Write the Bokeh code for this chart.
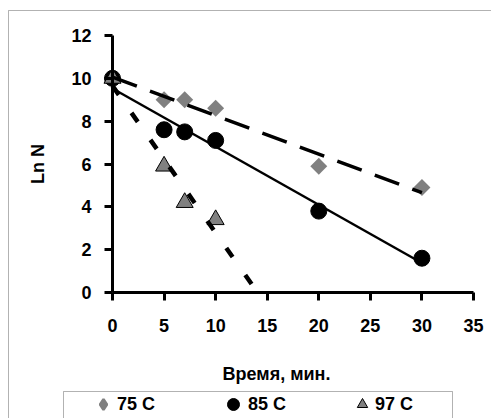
import numpy as np
from bokeh.plotting import figure
from bokeh.models import (Range1d, LinearAxis, FixedTicker, Legend, LegendItem,
                          BoxAnnotation, Label)
from bokeh.embed import file_html
from bokeh.resources import INLINE

# ---- data ----
time_75 = [0, 5, 7, 10, 20, 30]
ln_75 = [10.0, 9.0, 9.0, 8.6, 5.9, 4.9]
time_85 = [0, 5, 7, 10, 20, 30]
ln_85 = [10.0, 7.6, 7.5, 7.1, 3.8, 1.6]
time_97 = [0, 5, 7, 10]
ln_97 = [10.0, 5.9, 4.2, 3.4]
x_ticks = [0, 5, 10, 15, 20, 25, 30, 35]
y_ticks = [0, 2, 4, 6, 8, 10, 12]
series_labels = ["75 C", "85 C", "97 C"]
x_title = "Время, мин."
y_title = "Ln N"

FONT = "Liberation Sans"
GREY = "#808080"

# ---- layout: the frame covers the whole canvas, axes sit at x=0 / y=0 ----
W, H = 491, 418
ox, oy = 112, 292            # pixel position of the data origin
pxx = (473 - 112) / 35.0     # pixels per minute
pxy = (292 - 35) / 12.0      # pixels per Ln unit

p = figure(output_backend="svg", toolbar_location=None,
           x_range=Range1d(-ox / pxx, (W - ox) / pxx),
           y_range=Range1d(-(H - oy) / pxy, oy / pxy),
           x_axis_location=None, y_axis_location=None,
           frame_width=W, frame_height=H,
           min_border_left=0, min_border_right=0,
           min_border_top=0, min_border_bottom=0)
p.grid.grid_line_color = None
p.outline_line_color = None
p.background_fill_color = "white"
p.border_fill_color = "white"


def style_axis(ax):
    ax.axis_line_width = 3
    ax.axis_line_color = "black"
    ax.major_tick_line_width = 3
    ax.major_tick_line_color = "black"
    ax.major_tick_in = 0
    ax.major_tick_out = 8
    ax.minor_tick_in = 0
    ax.minor_tick_out = 0
    ax.major_label_text_font = FONT
    ax.major_label_text_font_size = "18px"
    ax.major_label_text_font_style = "bold"
    ax.major_label_text_color = "black"
    ax.axis_label_text_font = FONT
    ax.axis_label_text_font_size = "18px"
    ax.axis_label_text_font_style = "bold"
    ax.axis_label_text_color = "black"


xaxis = LinearAxis(ticker=FixedTicker(ticks=x_ticks), bounds=(0, 35),
                   fixed_location=0)
style_axis(xaxis)
xaxis.major_label_standoff = 18
p.add_layout(xaxis, "below")

yaxis = LinearAxis(ticker=FixedTicker(ticks=y_ticks), bounds=(0, 12),
                   axis_label=y_title, fixed_location=0)
style_axis(yaxis)
yaxis.major_label_standoff = 13
yaxis.axis_label_standoff = 20
p.add_layout(yaxis, "left")

# x-axis title (offset to the left like the reference)
p.add_layout(Label(x=276, y=H - 373, x_units="screen", y_units="screen",
                   text=x_title, text_align="center", text_baseline="middle",
                   text_font=FONT, text_font_size="18px",
                   text_font_style="bold", text_color="black"))

# ---- markers ----
# diamond-shaped key for the legend (legend glyphs ignore marker angle);
# drawn small under the rotated squares so it stays hidden in the plot
r75_key = p.scatter(time_75, ln_75, marker="diamond", size=8,
                    fill_color=GREY, line_color=GREY, line_width=2.5)
r75 = p.scatter(time_75, ln_75, marker="square", angle=np.pi / 4, size=12,
                fill_color=GREY, line_color=None)
r85 = p.scatter(time_85, ln_85, marker="circle", size=16,
                fill_color="black", line_color="black")
r97 = p.scatter(time_97, ln_97, marker="triangle", size=17,
                fill_color=GREY, line_color="black", line_width=1)

# ---- linear trend lines (least squares on the data) ----
m75, b75 = np.polyfit(time_75, ln_75, 1)
x75 = [min(time_75), max(time_75)]
p.line(x75, [b75 + m75 * x for x in x75], line_color="black", line_width=3.5,
       line_dash="26 14")

m85, b85 = np.polyfit(time_85, ln_85, 1)
x85 = [min(time_85), max(time_85)]
p.line(x85, [b85 + m85 * x for x in x85], line_color="black", line_width=2.5)

m97, b97 = np.polyfit(time_97, ln_97, 1)
x97 = [min(time_97), -b97 / m97]
p.line(x97, [b97 + m97 * x for x in x97], line_color="black", line_width=4.5,
       line_dash="11 22")

# ---- legend (one small legend per series for marker sizing) ----
cy = H - 404  # legend row centre, measured from the bottom
legend_specs = [
    (series_labels[0], r75_key, 26, 1, 90),
    (series_labels[1], r85, 30, -1, 218),
    (series_labels[2], r97, 26, -3, 349),
]
for label, rend, g, standoff, gx in legend_specs:
    lg = Legend(items=[LegendItem(label=label, renderers=[rend])],
                location=(gx, cy - g / 2), orientation="horizontal",
                glyph_width=g, glyph_height=g, label_standoff=standoff,
                padding=0, margin=0, border_line_color=None,
                background_fill_alpha=0,
                label_text_font=FONT, label_text_font_size="18px",
                label_text_font_style="bold", label_text_color="black")
    p.add_layout(lg, "center")

# ---- chart border and legend box ----
outer = BoxAnnotation(left=8, right=520, top=10, bottom=440,
                      left_units="canvas", right_units="canvas",
                      top_units="canvas", bottom_units="canvas",
                      fill_alpha=0, line_color="black", line_width=1)
legbox = BoxAnnotation(left=63, right=452, top=391, bottom=440,
                       left_units="canvas", right_units="canvas",
                       top_units="canvas", bottom_units="canvas",
                       fill_alpha=0, line_color="black", line_width=1)
p.add_layout(outer)
p.add_layout(legbox)

open("out.html", "w").write(file_html(p, INLINE))
